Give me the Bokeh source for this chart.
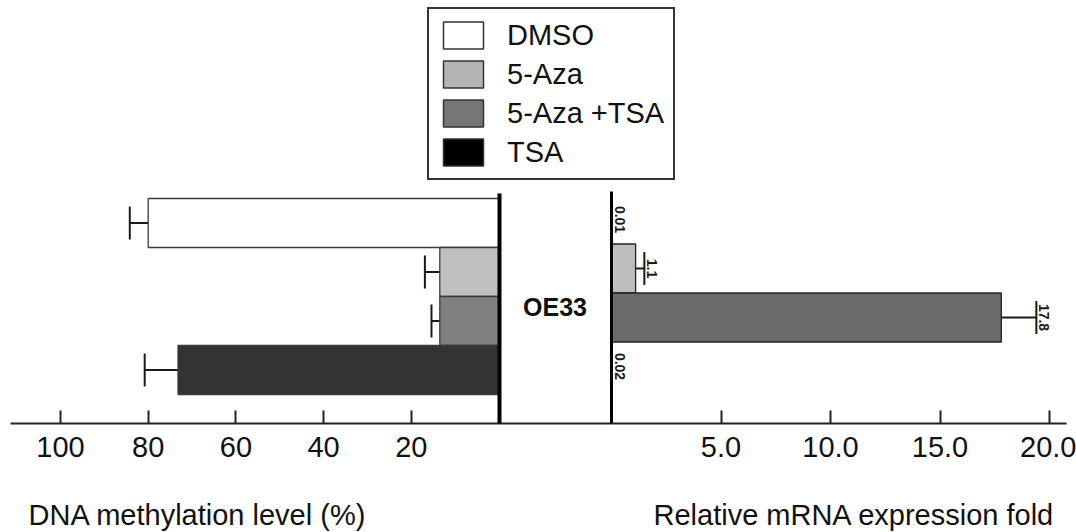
import math
from bokeh.plotting import figure
from bokeh.models import (Range1d, LinearAxis, FixedTicker, ColumnDataSource, Whisker, TeeHead,
                          Legend, LegendItem, Label, PrintfTickFormatter)
from bokeh.core.properties import value
from bokeh.embed import file_html
from bokeh.resources import INLINE

# ---------------- data ----------------
categories = ["DMSO", "5-Aza", "5-Aza +TSA", "TSA"]
methylation = [80.0, 13.5, 13.5, 73.2]          # DNA methylation level (%)
methylation_err = [4.2, 3.4, 1.9, 7.6]
expression = [0.01, 1.1, 17.8, 0.02]            # relative mRNA expression fold
expression_err = [0.0, 0.4, 1.6, 0.0]
expression_labels = ["0.01", "1.1", "17.8", "0.02"]
cell_line = "OE33"
left_ticks = [20, 40, 60, 80, 100]
right_ticks = [5.0, 10.0, 15.0, 20.0]
left_title = "DNA methylation level (%)"
right_title = "Relative mRNA expression fold"

legend_colors = ["#ffffff", "#b4b4b4", "#767676", "#000000"]
left_colors = ["#ffffff", "#c0c0c0", "#808080", "#333333"]
right_colors = ["#ffffff", "#bebebe", "#6a6a6a", "#000000"]

# ---------------- layout parameters ----------------
W, H = 1076, 532
FONT = "Liberation Sans"
L0, LS = 498.5, 4.385     # px of 0 % and px per % (left half, reversed)
R0, RS = 611.0, 21.9      # px of 0 fold and px per fold unit (right half)
Y0, YS = 222.5, 49.0      # px of first category and px per category
RY0 = 219.0
BASE = (423.0 - Y0) / YS  # bottom axis line

p = figure(width=W, height=H, output_backend="svg", toolbar_location=None,
           x_axis_location=None, y_axis_location=None, min_border=0,
           x_range=Range1d(L0 / LS, (L0 - W) / LS),
           y_range=Range1d((H - Y0) / YS, -Y0 / YS),
           outline_line_color=None)
p.title.visible = False
p.grid.visible = False
p.extra_x_ranges = {"right": Range1d(-R0 / RS, (W - R0) / RS)}
p.extra_y_ranges = {"right_y": Range1d((H - RY0) / YS, -RY0 / YS)}

idx = list(range(len(categories)))

# ---------------- left half: methylation ----------------
left_src = ColumnDataSource(dict(
    y=idx, v=methylation,
    hi=[m + e for m, e in zip(methylation, methylation_err)],
    color=left_colors, legend_color=legend_colors))
# zero-length bars at the baseline carry the legend swatch colours (hidden under the centre line)
legend_r = p.hbar(y="y", left=0, right=0, height=1.0, fill_color="legend_color",
                  line_color="#333333", line_width=1.5, source=left_src)
p.hbar(y="y", left="v", right=0, height=1.0, fill_color="color",
       line_color="#3a3a3a", line_width=1.3, source=left_src)
p.add_layout(Whisker(source=left_src, base="y", lower="v", upper="hi", dimension="width",
                     line_color="#1a1a1a", line_width=2, lower_head=None,
                     upper_head=TeeHead(size=33, line_color="#1a1a1a", line_width=2)))

# ---------------- right half: expression ----------------
right_src = ColumnDataSource(dict(
    y=idx, v=expression, color=right_colors, lab=expression_labels,
    tip=[v + e for v, e in zip(expression, expression_err)]))
p.hbar(y="y", left=0, right="v", height=1.0, fill_color="color",
       line_color="#222222", line_width=1.3, source=right_src,
       x_range_name="right", y_range_name="right_y")
err_rows = [i for i, e in enumerate(expression_err) if e > 0]
right_err_src = ColumnDataSource(dict(
    y=[idx[i] for i in err_rows], v=[expression[i] for i in err_rows],
    hi=[expression[i] + expression_err[i] for i in err_rows]))
p.add_layout(Whisker(source=right_err_src, base="y", lower="v", upper="hi", dimension="width",
                     line_color="#1a1a1a", line_width=2, lower_head=None,
                     upper_head=TeeHead(size=33, line_color="#1a1a1a", line_width=2),
                     x_range_name="right", y_range_name="right_y"))
p.text(x="tip", y="y", text="lab", angle=-math.pi / 2, text_align="center",
       text_baseline="bottom", x_offset=3, text_font=value(FONT), text_font_style="bold",
       text_font_size="14px", text_color="#1a1a1a", source=right_src,
       x_range_name="right", y_range_name="right_y")

# ---------------- axes ----------------
def style_x(ax):
    ax.axis_line_width = 2
    ax.axis_line_color = "#222222"
    ax.major_tick_in = 13
    ax.major_tick_out = 0
    ax.major_tick_line_width = 2
    ax.major_tick_line_color = "#222222"
    ax.minor_tick_line_color = None
    ax.major_label_text_font = FONT
    ax.major_label_text_font_size = "29px"
    ax.major_label_text_color = "#111111"
    ax.major_label_standoff = 13

ax_left = LinearAxis(fixed_location=BASE, ticker=FixedTicker(ticks=left_ticks),
                     bounds=((L0 - R0) / LS, (L0 - 10) / LS))
style_x(ax_left)
p.add_layout(ax_left, "below")

ax_right = LinearAxis(x_range_name="right", fixed_location=BASE,
                      ticker=FixedTicker(ticks=right_ticks),
                      formatter=PrintfTickFormatter(format="%.1f"),
                      bounds=(0, (1066 - R0) / RS))
style_x(ax_right)
p.add_layout(ax_right, "below")

def vline(range_name, width, top):
    ax = LinearAxis(x_range_name=range_name, fixed_location=0,
                    ticker=FixedTicker(ticks=[]), bounds=(top, BASE))
    ax.axis_line_width = width
    ax.axis_line_color = "#000000"
    ax.major_tick_line_color = None
    ax.minor_tick_line_color = None
    ax.major_label_text_font_size = "0px"
    p.add_layout(ax, "left")

vline("default", 4, (192.7 - Y0) / YS)
vline("right", 3, (190.7 - Y0) / YS)

# ---------------- texts ----------------
p.add_layout(Label(x=554.5, y=H - 306, x_units="screen", y_units="screen", text=cell_line,
                   text_align="center", text_baseline="middle", text_font=FONT,
                   text_font_style="bold", text_font_size="25px", text_color="#111111"))
p.add_layout(Label(x=28, y=18, x_units="screen", y_units="screen", text=left_title,
                   text_align="left", text_baseline="alphabetic", text_font=FONT,
                   text_font_size="29px", text_color="#111111"))
p.add_layout(Label(x=653, y=18, x_units="screen", y_units="screen", text=right_title,
                   text_align="left", text_baseline="alphabetic", text_font=FONT,
                   text_font_size="29px", text_color="#111111"))

# ---------------- legend ----------------
legend = Legend(items=[LegendItem(label=value(c), renderers=[legend_r], index=i)
                       for i, c in enumerate(categories)],
                location=(427, H - 10 - 170), orientation="vertical",
                glyph_width=50, glyph_height=34, label_standoff=19, spacing=5,
                padding=9, margin=0, border_line_color="#333333", border_line_width=2,
                border_line_alpha=1.0,
                background_fill_color="#ffffff", background_fill_alpha=1.0,
                label_text_font=FONT, label_text_font_size="29px", label_text_color="#111111")
p.add_layout(legend)

open("out.html", "w").write(file_html(p, INLINE, title="OE33"))
